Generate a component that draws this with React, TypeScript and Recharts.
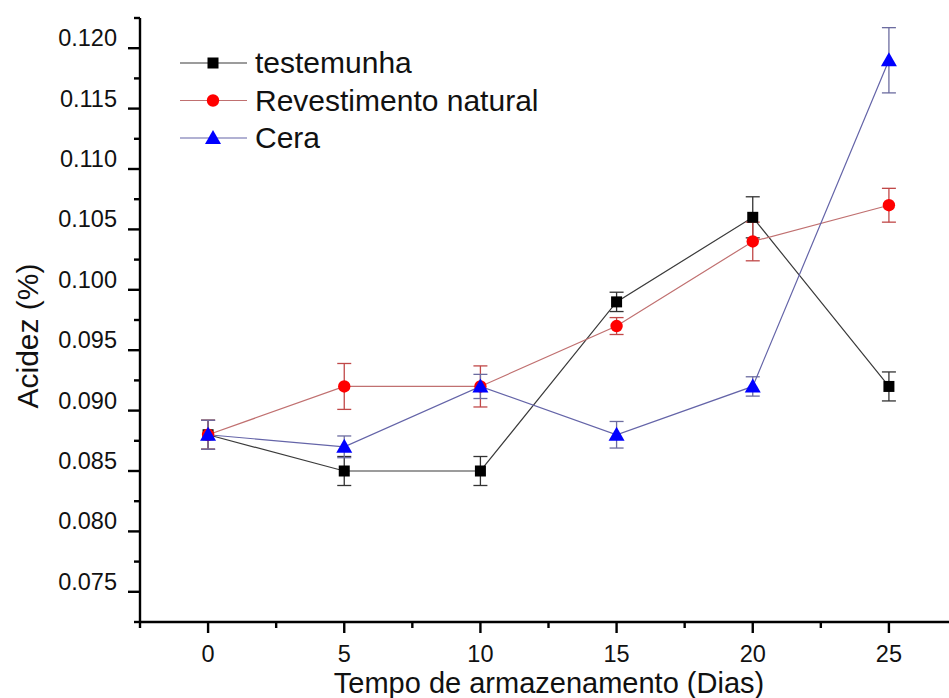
import { ComposedChart, ErrorBar, Line, XAxis, YAxis } from "recharts";

// dias de armazenamento
const dias = [0, 5, 10, 15, 20, 25];

// acidez média e desvio
const testemunha = [0.088, 0.085, 0.085, 0.099, 0.106, 0.092];
const testemunhaErr = [0.0012, 0.0012, 0.0012, 0.0008, 0.0017, 0.0012];
const revestimento = [0.088, 0.092, 0.092, 0.097, 0.104, 0.107];
const revestimentoErr = [0.0012, 0.0019, 0.0017, 0.0007, 0.0016, 0.0014];
const cera = [0.088, 0.087, 0.092, 0.088, 0.092, 0.119];
const ceraErr = [0.0012, 0.0009, 0.001, 0.0011, 0.0008, 0.0027];

const xTicks = [-2.5, 0, 2.5, 5, 7.5, 10, 12.5, 15, 17.5, 20, 22.5, 25, 27.5];
const yTicks = [
  0.0725, 0.075, 0.0775, 0.08, 0.0825, 0.085, 0.0875, 0.09, 0.0925, 0.095,
  0.0975, 0.1, 0.1025, 0.105, 0.1075, 0.11, 0.1125, 0.115, 0.1175, 0.12,
  0.1225,
];

const seriesNames = ["testemunha", "Revestimento natural", "Cera"];

const FONT = '"Liberation Sans", Arial, sans-serif';
const LINE_T = "#3a3a3a";
const LINE_R = "#c07070";
const LINE_C = "#6464a8";

const data = dias.map((d, i) => ({
  dia: d,
  testemunha: testemunha[i],
  testemunhaErr: testemunhaErr[i],
  revestimento: revestimento[i],
  revestimentoErr: revestimentoErr[i],
  cera: cera[i],
  ceraErr: ceraErr[i],
}));

function XTick(props: any) {
  const { x, y, payload } = props;
  const v = payload.value as number;
  const major = Number.isInteger(v);
  return (
    <g>
      <line x1={x} y1={y} x2={x} y2={y + (major ? 11 : 6)} stroke="#000" strokeWidth={2.4} />
      {major && (
        <text x={x} y={y + 40} textAnchor="middle" fontSize={23.5} fontFamily={FONT} fill="#111">
          {v}
        </text>
      )}
    </g>
  );
}

function YTick(props: any) {
  const { x, y, payload } = props;
  const v = payload.value as number;
  const major = Math.round(v * 10000) % 50 === 0;
  return (
    <g>
      <line x1={x - (major ? 12 : 6)} y1={y} x2={x} y2={y} stroke="#000" strokeWidth={2.4} />
      {major && (
        <text x={117} y={y - 2} textAnchor="end" fontSize={23.5} fontFamily={FONT} fill="#111">
          {v.toFixed(3)}
        </text>
      )}
    </g>
  );
}

const XTitle = () => (
  <text x={549} y={693} textAnchor="middle" fontSize={29} fontFamily={FONT} fill="#111">
    Tempo de armazenamento (Dias)
  </text>
);

const YTitle = () => (
  <text
    x={38}
    y={336}
    transform="rotate(-90, 38, 336)"
    textAnchor="middle"
    fontSize={30}
    fontFamily={FONT}
    fill="#111"
  >
    Acidez (%)
  </text>
);

const Square = ({ cx, cy }: { cx: number; cy: number }) => (
  <rect x={cx - 5.5} y={cy - 5.5} width={11} height={11} fill="#000" />
);
const Circle = ({ cx, cy }: { cx: number; cy: number }) => (
  <circle cx={cx} cy={cy} r={6.2} fill="#ff0000" />
);
const Triangle = ({ cx, cy }: { cx: number; cy: number }) => (
  <polygon points={`${cx},${cy - 8} ${cx - 8},${cy + 6} ${cx + 8},${cy + 6}`} fill="#0000ff" />
);

const dotOf = (Shape: any, tag: string) => (p: any) =>
  p.cx == null || p.cy == null ? (
    <g key={`${tag}-${p.index}`} />
  ) : (
    <Shape key={`${tag}-${p.index}`} cx={p.cx} cy={p.cy} />
  );

const legendRows = [
  { color: LINE_T, Shape: Square },
  { color: LINE_R, Shape: Circle },
  { color: LINE_C, Shape: Triangle },
];

export default function App() {
  return (
    <div
      style={{
        position: "fixed",
        left: 0,
        top: 0,
        width: 949,
        height: 698,
        overflow: "hidden",
        background: "#fff",
      }}
    >
      <ComposedChart
        width={1000}
        height={698}
        data={data}
        margin={{ top: 18, right: 43, bottom: 0, left: 0 }}
      >
        <XAxis
          dataKey="dia"
          type="number"
          domain={[-2.5, 27.5]}
          ticks={xTicks}
          interval={0}
          height={76}
          tickSize={0}
          tickMargin={0}
          tickLine={false}
          axisLine={{ stroke: "#000", strokeWidth: 2.4 }}
          tick={<XTick />}
          label={<XTitle />}
        />
        <YAxis
          type="number"
          domain={[0.0725, 0.1225]}
          ticks={yTicks}
          interval={0}
          width={140}
          tickSize={0}
          tickMargin={0}
          tickLine={false}
          axisLine={{ stroke: "#000", strokeWidth: 2.4 }}
          tick={<YTick />}
          label={<YTitle />}
        />
        <Line
          dataKey="testemunha"
          stroke={LINE_T}
          strokeWidth={1.2}
          dot={dotOf(Square, "t")}
          activeDot={false}
          isAnimationActive={false}
        >
          <ErrorBar dataKey="testemunhaErr" width={7} stroke="#333" strokeWidth={1.3} />
        </Line>
        <Line
          dataKey="revestimento"
          stroke={LINE_R}
          strokeWidth={1.2}
          dot={dotOf(Circle, "r")}
          activeDot={false}
          isAnimationActive={false}
        >
          <ErrorBar dataKey="revestimentoErr" width={7} stroke="#c04848" strokeWidth={1.3} />
        </Line>
        <Line
          dataKey="cera"
          stroke={LINE_C}
          strokeWidth={1.2}
          dot={dotOf(Triangle, "c")}
          activeDot={false}
          isAnimationActive={false}
        >
          <ErrorBar dataKey="ceraErr" width={7} stroke="#6c6ca0" strokeWidth={1.3} />
        </Line>
      </ComposedChart>
      <svg
        width={949}
        height={698}
        style={{ position: "absolute", left: 0, top: 0, pointerEvents: "none" }}
      >
        {legendRows.map(({ color, Shape }, i) => {
          const y = 63 + i * 37.5;
          return (
            <g key={seriesNames[i]}>
              <line x1={180} y1={y} x2={247} y2={y} stroke={color} strokeWidth={1.2} />
              <Shape cx={213} cy={y} />
              <text x={255} y={y + 10} fontSize={30} fontFamily={FONT} fill="#111">
                {seriesNames[i]}
              </text>
            </g>
          );
        })}
      </svg>
    </div>
  );
}
